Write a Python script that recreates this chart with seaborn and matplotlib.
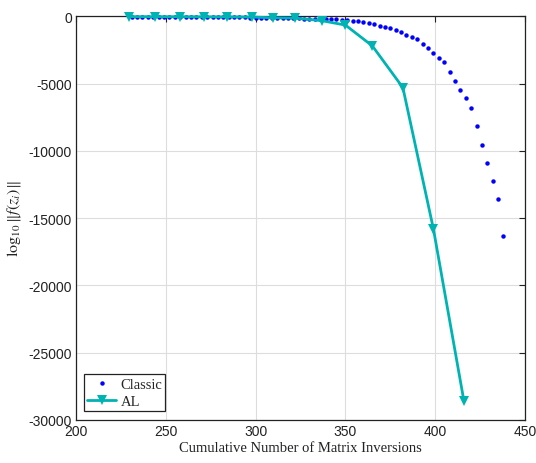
import matplotlib
matplotlib.use("Agg")
import matplotlib.pyplot as plt
import seaborn as sns
import pandas as pd

classic_x = [231, 234, 237, 240, 243, 246, 249, 252, 255, 258, 261, 264, 267, 270,
             273, 276, 279, 282, 285, 288, 291, 294, 297, 300, 303, 306, 309, 312,
             315, 318, 321, 324, 327, 330, 333, 336, 339, 342, 345, 348, 351, 354,
             357, 360, 363, 366, 369, 372, 375, 378, 381, 384, 387, 390, 393, 396,
             399, 402, 405, 408, 411, 414, 417, 420, 423, 426, 429, 432, 435, 438]
classic_y = [-15, -17, -19, -21, -23, -25, -27, -30, -32, -35, -38, -41, -44, -47,
             -51, -55, -59, -63, -68, -73, -78, -84, -90, -96, -103, -110, -118, -126,
             -134, -143, -152, -161, -170, -178, -185, -192, -198, -205, -215, -250, -280, -330,
             -370, -420, -500, -590, -700, -770, -870, -1040, -1190, -1370, -1510, -1690, -2060, -2350,
             -2730, -3070, -3390, -4110, -4780, -5450, -6090, -6810, -8150, -9530, -10870, -12230, -13570, -16310]

al_x = [229.5, 244, 258, 271, 284, 298, 309.5, 322, 337, 350, 365, 382, 399, 416]
al_y = [-30, -30, -35, -40, -45, -50, -110, -130, -330, -650, -2200, -5300, -15800, -28600]

x_ticks = [200, 250, 300, 350, 400, 450]
y_ticks = [0, -5000, -10000, -15000, -20000, -25000, -30000]

sns.set_style("whitegrid")
plt.rcParams['font.family'] = ['Liberation Sans', 'DejaVu Sans']
plt.rcParams['axes.unicode_minus'] = False
plt.rcParams['mathtext.fontset'] = 'stix'

fig = plt.figure(figsize=(5.36, 4.64), dpi=100)
ax = fig.add_axes([0.1418, 0.0927, 0.8377, 0.87])

df_c = pd.DataFrame({"x": classic_x, "y": classic_y})
df_a = pd.DataFrame({"x": al_x, "y": al_y})

sns.lineplot(data=df_c, x="x", y="y", ax=ax, linestyle="none", marker="o",
             markersize=3.2, markeredgewidth=0, color="#0000ff", label="Classic")
sns.lineplot(data=df_a, x="x", y="y", ax=ax, marker="v", markersize=7,
             markeredgewidth=0, color="#00b3b3", linewidth=2, label="AL")
for ln in ax.lines:
    ln.set_clip_on(False)
    ln.set_zorder(5)

ax.set_xlim(200, 450)
ax.set_ylim(-30000, 0)
ax.set_xticks(x_ticks)
ax.set_yticks(y_ticks)
ax.tick_params(axis="both", labelsize=10, direction="in", length=4, width=0.8,
               top=True, right=True, colors="#222222", pad=3)
ax.grid(True, color="#dddddd", linewidth=0.8)
for s in ax.spines.values():
    s.set_visible(True)
    s.set_color("#222222")
    s.set_linewidth(0.9)

ax.set_xlabel("Cumulative Number of Matrix Inversions", family="Liberation Serif",
              fontsize=10.5, color="#222222", labelpad=2)
ax.set_ylabel(r"$\log_{10}\|f(z_i)\|$", fontsize=11.5, color="#222222", labelpad=4)

leg = ax.legend(loc="lower left", prop={"family": "Liberation Serif", "size": 10.5},
                frameon=True, fancybox=False, edgecolor="#222222", framealpha=1,
                borderpad=0.2, handlelength=2.0, handletextpad=0.3, labelspacing=0.3,
                borderaxespad=0, bbox_to_anchor=(0.018, 0.022))
leg.get_frame().set_linewidth(0.9)
leg.set_zorder(10)

fig.savefig("out.png", dpi=100)
